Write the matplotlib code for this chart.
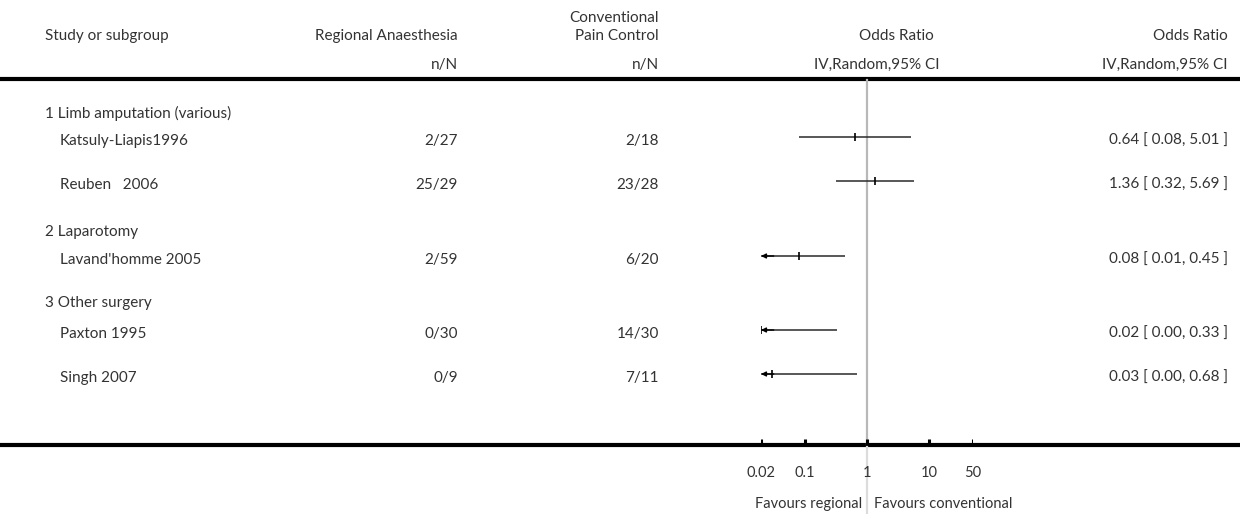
import matplotlib
matplotlib.use("Agg")
import matplotlib.pyplot as plt

plt.rcParams['font.family'] = ['Lato', 'DejaVu Sans']

# subgroup headers and the studies under each
groups = ["1 Limb amputation (various)", "2 Laparotomy", "3 Other surgery"]
studies = ["Katsuly-Liapis1996", "Reuben   2006", "Lavand'homme 2005", "Paxton 1995", "Singh 2007"]
regional = ["2/27", "25/29", "2/59", "0/30", "0/9"]
conventional = ["2/18", "23/28", "6/20", "14/30", "7/11"]
odds = [0.64, 1.36, 0.08, 0.02, 0.03]
ci_low = [0.08, 0.32, 0.01, 0.00, 0.00]
ci_high = [5.01, 5.69, 0.45, 0.33, 0.68]
ticks = [0.02, 0.1, 1, 10, 50]
tick_labels = ["0.02", "0.1", "1", "10", "50"]

W, H = 1240, 514
txt = "#333333"
fs = 11
kw = dict(fontsize=fs, color=txt)

# row positions in pixels from the top
group_y = [113, 232, 303]
study_y = [137, 181, 256, 330, 374]

fig = plt.figure(figsize=(W / 100, H / 100), dpi=100)
tab = fig.add_axes([0, 0, 1, 1])
tab.set_xlim(0, W)
tab.set_ylim(H, 0)
tab.axis("off")

# forest panel: log axis from 0.02 to 50 laid over x = 761..973 px
x0, x1 = 761, 973
fp = fig.add_axes([x0 / W, 0, (x1 - x0) / W, 1])
fp.set_xscale("log")
fp.set_xlim(ticks[0], ticks[-1])
fp.set_ylim(H, 0)
fp.axis("off")

# column headers
tab.text(45, 36, "Study or subgroup", ha="left", va="center", **kw)
tab.text(458, 36, "Regional Anaesthesia", ha="right", va="center", **kw)
tab.text(458, 65, "n/N", ha="right", va="center", **kw)
tab.text(659, 18, "Conventional", ha="right", va="center", **kw)
tab.text(659, 36, "Pain Control", ha="right", va="center", **kw)
tab.text(659, 65, "n/N", ha="right", va="center", **kw)
tab.text(896, 36, "Odds Ratio", ha="center", va="center", **kw)
tab.text(877, 65, "IV,Random,95% CI", ha="center", va="center", **kw)
tab.text(1228, 36, "Odds Ratio", ha="right", va="center", **kw)
tab.text(1228, 65, "IV,Random,95% CI", ha="right", va="center", **kw)

# top and bottom rules
tab.plot([0, W], [79, 79], color="black", lw=3, solid_capstyle="butt")
tab.plot([0, W], [445, 445], color="black", lw=3, solid_capstyle="butt")

# line of no effect
fp.plot([1, 1], [80, 444], color="#b8b8b8", lw=1.6, zorder=1)
fp.plot([1, 1], [447, H], color="#dcdcdc", lw=1.6, zorder=1)

for g, y in zip(groups, group_y):
    tab.text(45, y, g, ha="left", va="center", **kw)

for i, y in enumerate(study_y):
    ty = y + 4
    tab.text(60, ty, studies[i], ha="left", va="center", **kw)
    tab.text(458, ty, regional[i], ha="right", va="center", **kw)
    tab.text(659, ty, conventional[i], ha="right", va="center", **kw)
    tab.text(1228, ty, "%.2f [ %.2f, %.2f ]" % (odds[i], ci_low[i], ci_high[i]),
             ha="right", va="center", **kw)

    lo = max(ci_low[i], ticks[0])
    hi = min(ci_high[i], ticks[-1])
    fp.plot([lo, hi], [y, y], color="#2a2a2a", lw=1.1, solid_capstyle="butt", zorder=2)
    fp.plot([odds[i]], [y], marker="|", ms=6, mew=1.2, color="black", zorder=3)
    if ci_low[i] < ticks[0]:
        fp.annotate("", xy=(ticks[0], y), xytext=(ticks[0] * 1.6, y),
                    arrowprops=dict(arrowstyle="-|>", color="black", lw=1.0,
                                    mutation_scale=7, shrinkA=0, shrinkB=0))

# axis ticks and labels
for t in ticks:
    fp.plot([t, t], [439, 445], color="black", lw=2.2, solid_capstyle="butt")
for t, lab in zip(ticks, tick_labels):
    fp.text(t, 473, lab, ha="center", va="center", fontsize=10.5, color=txt)

tab.text(862, 504, "Favours regional", ha="right", va="center", fontsize=10.5, color=txt)
tab.text(874, 504, "Favours conventional", ha="left", va="center", fontsize=10.5, color=txt)

fig.savefig("out.png", dpi=100)
